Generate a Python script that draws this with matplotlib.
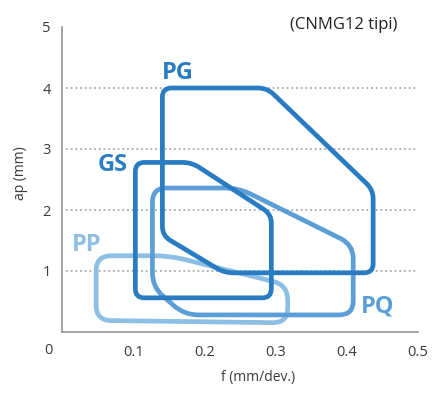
import numpy as np
import matplotlib
matplotlib.use("Agg")
import matplotlib.pyplot as plt
from matplotlib.path import Path
from matplotlib.patches import PathPatch

plt.rcParams['font.family'] = ['Open Sans', 'DejaVu Sans']

# ---- data (f in mm/dev., ap in mm) ----
pg_f  = [0.141, 0.288, 0.437, 0.437, 0.228, 0.141]
pg_ap = [4.00, 4.00, 2.33, 0.97, 0.97, 1.58]

gs_f  = [0.103, 0.182, 0.294, 0.294, 0.103]
gs_ap = [2.78, 2.78, 1.93, 0.56, 0.56]

pq_f  = [0.127, 0.248, 0.409, 0.409, 0.172, 0.127]
pq_ap = [2.36, 2.36, 1.43, 0.28, 0.28, 0.74]

pp_f  = [0.048, 0.151, 0.317, 0.317, 0.048]
pp_ap = [1.25, 1.25, 0.77, 0.15, 0.19]

names = ['PP', 'PQ', 'GS', 'PG']
label_f  = [0.035, 0.443, 0.071, 0.162]
label_ap = [1.43, 0.41, 2.74, 4.25]

xticks = [0.1, 0.2, 0.3, 0.4, 0.5]
xtick_labels = ['0.1', '0.2', '0.3', '0.4', '0.5']
yticks = [1, 2, 3, 4, 5]
ytick_labels = ['1', '2', '3', '4', '5']
grid_levels = [1, 2, 3, 4]

colors = {'PG': '#2a7cc2', 'GS': '#2a7cc2', 'PQ': '#5c9fd6', 'PP': '#8dbfe4'}
radii = {'PG': 9, 'GS': 9, 'PQ': 14, 'PP': 15}
shapes = {'PG': (pg_f, pg_ap), 'GS': (gs_f, gs_ap),
          'PQ': (pq_f, pq_ap), 'PP': (pp_f, pp_ap)}

fig = plt.figure(figsize=(4.45, 3.95), dpi=100)
ax = fig.add_axes([62/445, 1-332/395, 356/445, 305/395])
ax.set_xlim(0, 0.5)
ax.set_ylim(0, 5)

text_col = '#3a3a3a'
for s in ['top', 'right']:
    ax.spines[s].set_visible(False)
for s in ['left', 'bottom']:
    ax.spines[s].set_color('#8c8c8c')
    ax.spines[s].set_linewidth(1.1)

ax.set_xticks(xticks)
ax.set_xticklabels(xtick_labels)
ax.set_yticks(yticks)
ax.set_yticklabels(ytick_labels)
ax.tick_params(axis='both', length=0, labelsize=10.5, colors=text_col)
ax.tick_params(axis='x', pad=9)
ax.tick_params(axis='y', pad=8)
ax.annotate('0', xy=(0, 0), xytext=(-14, -18), textcoords='offset pixels',
            ha='center', va='center', fontsize=10.5, color=text_col)

ax.hlines(grid_levels, 0.005, 0.497, colors='#aaaaaa', linewidth=1.3,
          linestyles=(0, (1, 1.6)), zorder=1)

ax.set_xlabel('f (mm/dev.)', fontsize=10, color=text_col)
ax.xaxis.set_label_coords(0.55, -0.125)
ax.set_ylabel('ap (mm)', fontsize=10, color=text_col)
ax.yaxis.set_label_coords(-0.095, 0.52)

fig.text(344/445, 1-25/395, '(CNMG12 tipi)', ha='center', va='center',
         fontsize=12, color='#222222')


def rounded_path(fx, fy, r):
    pts = ax.transData.transform(np.column_stack([fx, fy]))
    n = len(pts)
    verts, codes = [], []
    for i in range(n):
        p0, p1, p2 = pts[i-1], pts[i], pts[(i+1) % n]
        d0 = p0 - p1
        d2 = p2 - p1
        l0, l2 = np.hypot(*d0), np.hypot(*d2)
        rr = min(r, l0/2, l2/2)
        a = p1 + d0/l0*rr
        b = p1 + d2/l2*rr
        if i == 0:
            verts.append(a); codes.append(Path.MOVETO)
        else:
            verts.append(a); codes.append(Path.LINETO)
        verts += [p1, b]; codes += [Path.CURVE3, Path.CURVE3]
    verts.append(verts[0]); codes.append(Path.CLOSEPOLY)
    verts = ax.transData.inverted().transform(np.array(verts))
    return Path(verts, codes)


for k, name in enumerate(names):
    fx, fy = shapes[name]
    path = rounded_path(fx, fy, radii[name])
    ax.add_patch(PathPatch(path, facecolor='none', edgecolor=colors[name],
                           linewidth=3.4, joinstyle='round', zorder=2+k))
    ax.text(label_f[k], label_ap[k], name, ha='center', va='center',
            fontsize=17, fontweight='bold', color=colors[name], zorder=10)

fig.savefig('out.png', dpi=100)
